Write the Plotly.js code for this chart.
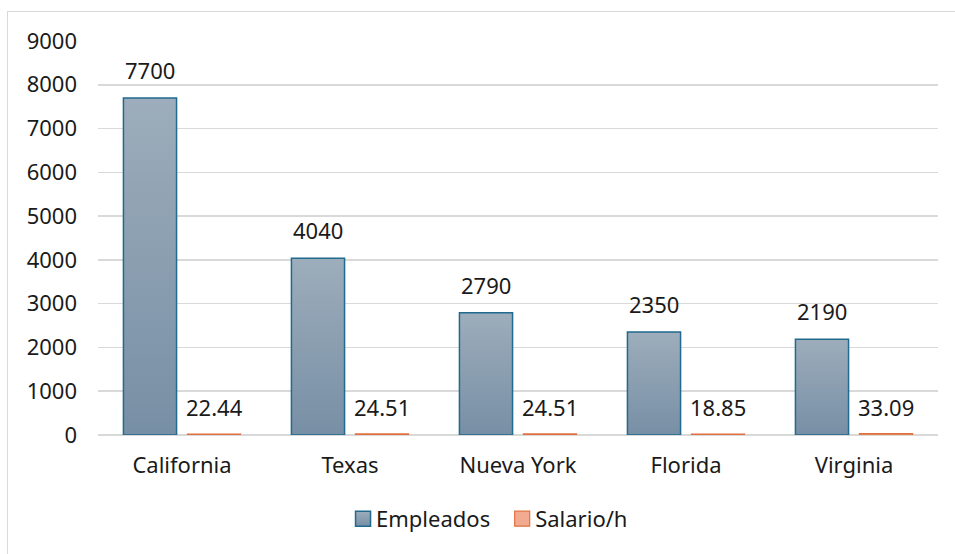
<!DOCTYPE html>
<html>
<head>
<meta charset="utf-8">
<script src="https://cdn.plot.ly/plotly-3.0.1.min.js"></script>
<style>
  html, body { margin: 0; padding: 0; background: #ffffff; }
  #wrap { position: relative; width: 955px; height: 554px; overflow: hidden; }
  #frame { position: absolute; left: 7px; top: 11px; width: 1000px; height: 600px;
           border: 1.5px solid #d9d9d9; box-sizing: border-box; }
  #chart { position: absolute; left: 0; top: 0; width: 955px; height: 554px; }
</style>
</head>
<body>
<div id="wrap">
  <div id="frame"></div>
  <div id="chart"></div>
</div>
<script>
const categories = ["California", "Texas", "Nueva York", "Florida", "Virginia"];
const empleados = [7700, 4040, 2790, 2350, 2190];
const salario = [22.44, 24.51, 24.51, 18.85, 33.09];
const salarioLabels = ["22.44", "24.51", "24.51", "18.85", "33.09"];
const yTicks = [0, 1000, 2000, 3000, 4000, 5000, 6000, 7000, 8000, 9000];

const FONT = "Noto Sans, Liberation Sans, Arial, sans-serif";
const TXT = "#1a1a1a";

const traces = [
  {
    type: "bar", name: "Empleados", x: categories, y: empleados,
    marker: { color: "#8a9fb2", line: { color: "#1f6a8e", width: 1.5 } },
    hoverinfo: "skip"
  },
  {
    type: "bar", name: "Salario/h", x: categories, y: salario,
    marker: { color: "#f2ab90", line: { color: "#e2703f", width: 1.2 } },
    hoverinfo: "skip"
  }
];

const annotations = [];
categories.forEach((c, i) => {
  annotations.push({
    x: c, y: empleados[i], xref: "x", yref: "y", text: String(empleados[i]),
    showarrow: false, xanchor: "center", yanchor: "bottom", xshift: -32, yshift: 11,
    font: { family: FONT, size: 22, color: TXT }
  });
  annotations.push({
    x: c, y: salario[i], xref: "x", yref: "y", text: salarioLabels[i],
    showarrow: false, xanchor: "center", yanchor: "bottom", xshift: 32, yshift: 10,
    font: { family: FONT, size: 22, color: TXT }
  });
});

const layout = {
  width: 955, height: 554,
  margin: { l: 98, r: 17, t: 41, b: 119 },
  paper_bgcolor: "rgba(0,0,0,0)", plot_bgcolor: "rgba(0,0,0,0)",
  font: { family: FONT, size: 22, color: TXT },
  barmode: "group", bargap: 0.238, bargroupgap: 0.17,
  showlegend: true,
  legend: {
    orientation: "h", x: 0.4685, xanchor: "center", y: -0.213, yanchor: "middle",
    font: { family: FONT, size: 22, color: TXT }, itemclick: false, itemdoubleclick: false,
    traceorder: "normal"
  },
  xaxis: {
    type: "category", showgrid: false, showline: false, zeroline: false, ticks: "",
    tickfont: { family: FONT, size: 22, color: TXT }, ticklabelstandoff: 15, fixedrange: true
  },
  yaxis: {
    range: [0, 9000], tickvals: yTicks, ticktext: yTicks.map(String),
    showgrid: true, gridcolor: "#d9d9d9", gridwidth: 1.5,
    zeroline: true, zerolinecolor: "#d9d9d9", zerolinewidth: 1.5,
    showline: false, ticks: "", ticklabelstandoff: 20,
    tickfont: { family: FONT, size: 22, color: TXT }, fixedrange: true
  },
  annotations: annotations
};

Plotly.newPlot("chart", traces, layout, { staticPlot: true, displayModeBar: false }).then(gd => {
  const svg = gd.querySelector(".main-svg");
  let defs = svg.querySelector("defs");
  const NS = "http://www.w3.org/2000/svg";
  const lg = document.createElementNS(NS, "linearGradient");
  lg.setAttribute("id", "empGrad");
  lg.setAttribute("x1", "0"); lg.setAttribute("y1", "0");
  lg.setAttribute("x2", "0"); lg.setAttribute("y2", "1");
  [["0", "#9dadbb"], ["1", "#778fa5"]].forEach(([o, c]) => {
    const s = document.createElementNS(NS, "stop");
    s.setAttribute("offset", o); s.setAttribute("stop-color", c);
    lg.appendChild(s);
  });
  defs.appendChild(lg);
  const barTraces = gd.querySelectorAll(".barlayer .trace.bars");
  if (barTraces.length) {
    barTraces[0].querySelectorAll("path").forEach(p => { p.style.fill = "url(#empGrad)"; });
  }
  const legendItems = gd.querySelectorAll(".legend .traces");
  legendItems.forEach((item, idx) => {
    item.querySelectorAll(".legendpoints path").forEach(p => {
      p.setAttribute("d", "M7.5,7.5H-7.5V-7.5H7.5Z");
      if (idx === 0) p.style.fill = "url(#empGrad)";
    });
    const t = item.querySelector("text.legendtext");
    if (t) t.setAttribute("x", "33");
  });
});
</script>
</body>
</html>
